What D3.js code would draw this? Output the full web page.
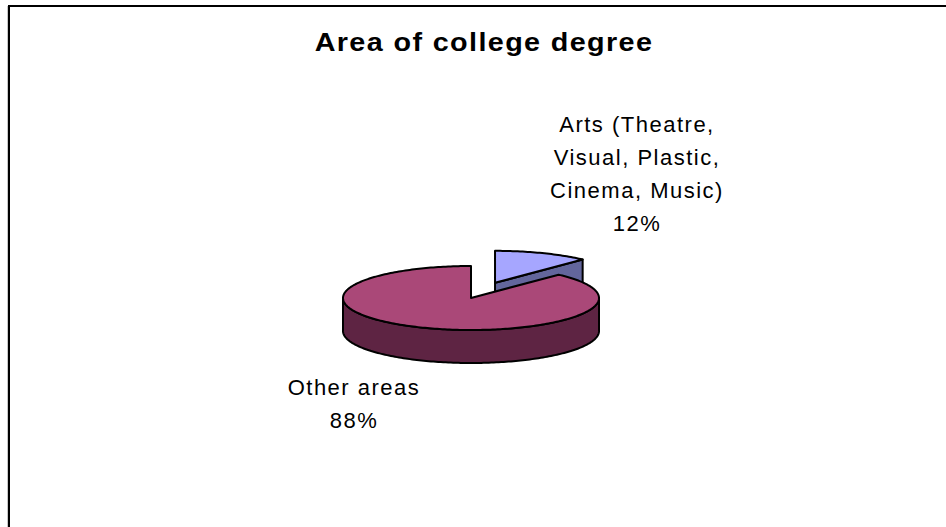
<!DOCTYPE html>
<html>
<head>
<meta charset="utf-8">
<script src="https://cdn.jsdelivr.net/npm/d3@7"></script>
<style>
  html, body { margin: 0; padding: 0; background: #fff; }
  svg { display: block; }
  text { font-family: "Liberation Sans", Arial, sans-serif; fill: #000; }
</style>
</head>
<body>
<svg id="chart" width="946" height="527"></svg>
<script>
"use strict";

// data
const title = "Area of college degree";
const categories = ["Arts (Theatre, Visual, Plastic, Cinema, Music)", "Other areas"];
const shares = [12, 88];
const labelLines = [
  ["Arts (Theatre,", "Visual, Plastic,", "Cinema, Music)", "12%"],
  ["Other areas", "88%"]
];
const explode = [0.51, 0];
const topColors = ["#a6a6ff", "#aa4878"];
const sideColors = ["#63669c", "#5e2443"];

const svg = d3.select("#chart");

// frame
svg.append("line").attr("x1", 7.5).attr("x2", 7.5).attr("y1", 6).attr("y2", 527)
  .attr("stroke", "#c8c8c8").attr("stroke-width", 1);
svg.append("rect")
  .attr("x", 9).attr("y", 6).attr("width", 960).attr("height", 540)
  .attr("fill", "none").attr("stroke", "#000").attr("stroke-width", 2);

// title, slightly widened like the original rendering
svg.append("g")
  .attr("transform", "translate(484,51) scale(1.15,1)")
  .append("text")
  .attr("text-anchor", "middle")
  .style("font-size", "25px").style("font-weight", "bold").style("letter-spacing", "1.2px")
  .text(title);

// pie geometry
const cx = 471, cy = 298, rx = 128, ry = 32, depth = 33;
const pie = d3.pie().sort(null).value((d) => d.value);
const arcs = pie(shares.map((v, i) => ({ value: v, i: i })));

function pt(a, r, off, down) {
  return [cx + off[0] + r * rx * Math.sin(a), cy + off[1] - r * ry * Math.cos(a) + down];
}
function offsetOf(d) {
  const mid = (d.startAngle + d.endAngle) / 2;
  const e = explode[d.index];
  return [e * rx * Math.sin(mid), -e * ry * Math.cos(mid)];
}
function arcPts(a0, a1, off, down) {
  const n = Math.max(2, Math.ceil(Math.abs(a1 - a0) / 0.02));
  return d3.range(n + 1).map((k) => pt(a0 + (a1 - a0) * k / n, 1, off, down));
}
const line = d3.line().curve(d3.curveLinearClosed);

const g = svg.append("g")
  .attr("stroke", "#000").attr("stroke-width", 2).attr("stroke-linejoin", "round");

arcs.forEach((d) => {
  const off = offsetOf(d);
  const c0 = pt(0, 0, off, 0), c1 = pt(0, 0, off, depth);

  // cut face at end angle (visible when it faces the viewer)
  if (Math.cos(d.endAngle) > 0 && d.endAngle < 2 * Math.PI - 1e-6) {
    const e0 = pt(d.endAngle, 1, off, 0), e1 = pt(d.endAngle, 1, off, depth);
    g.append("path").attr("d", line([c0, e0, e1, c1])).attr("fill", sideColors[d.index]);
  }

  // outer wall, front half only
  const w0 = Math.max(d.startAngle, Math.PI / 2);
  const w1 = Math.min(d.endAngle, 3 * Math.PI / 2);
  if (w1 > w0) {
    const top = arcPts(w0, w1, off, 0);
    const bottom = arcPts(w1, w0, off, depth);
    g.append("path").attr("d", line(top.concat(bottom))).attr("fill", sideColors[d.index]);
  }

  // top face
  g.append("path")
    .attr("d", line([c0].concat(arcPts(d.startAngle, d.endAngle, off, 0))))
    .attr("fill", topColors[d.index]);
});

// labels
const labelPos = [[637, 132], [354, 395]];
labelLines.forEach((lines, i) => {
  const t = svg.append("text")
    .attr("text-anchor", "middle")
    .style("font-size", "22px").style("letter-spacing", "1.5px");
  t.append("title").text(categories[i]);
  lines.forEach((s, k) => {
    t.append("tspan").attr("x", labelPos[i][0]).attr("y", labelPos[i][1] + k * 33).text(s);
  });
});
</script>
</body>
</html>
